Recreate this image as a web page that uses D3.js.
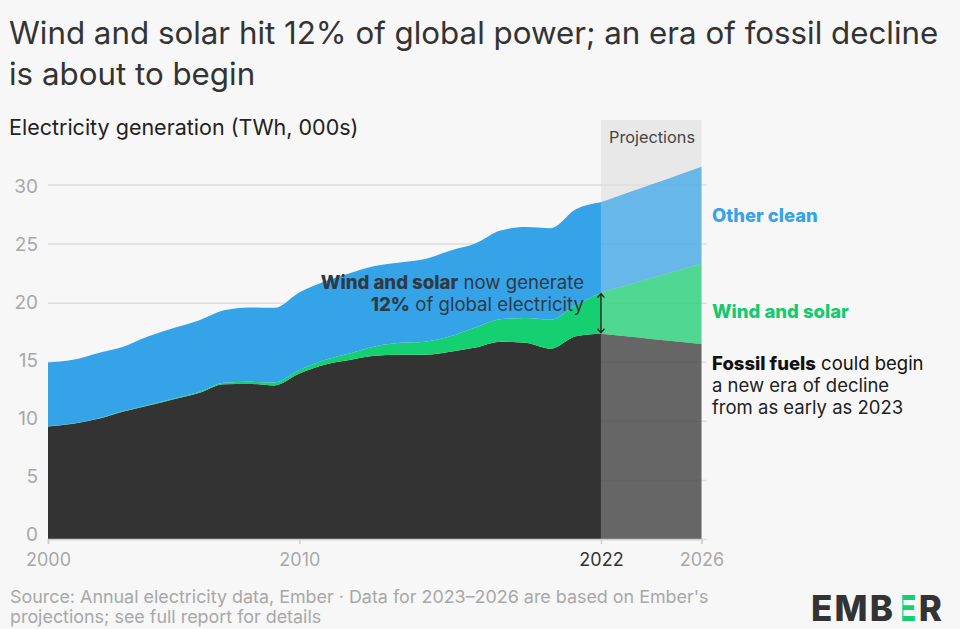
<!DOCTYPE html>
<html lang="en">
<head>
  <meta charset="UTF-8">
  <title>Wind and solar hit 12% of global power</title>
  <script src="https://d3js.org/d3.v7.min.js"></script>
  <style>
    html, body { margin: 0; padding: 0; background: #f7f7f7; }
    svg { display: block; font-family: Inter, sans-serif; }
    .tick text { font-family: Inter, sans-serif; }
  </style>
</head>
<body>
  <div id="chart"></div>

  <script>
    const years = d3.range(2000, 2027);
    const fossil = [9.52, 9.75, 10.17, 10.8, 11.3, 11.83, 12.35, 13.1, 13.12, 13.0, 14.0, 14.75, 15.15, 15.5, 15.6, 15.6, 15.85, 16.2, 16.7, 16.6, 16.1, 17.15, 17.37, 17.15, 16.93, 16.72, 16.5];
    const windSolar = [0.03, 0.03, 0.03, 0.03, 0.04, 0.05, 0.08, 0.12, 0.18, 0.25, 0.3, 0.4, 0.55, 0.8, 1.0, 1.1, 1.3, 1.7, 1.9, 2.1, 2.46, 2.65, 3.48, 4.31, 5.15, 5.97, 6.8];
    const otherClean = [5.39, 5.39, 5.55, 5.44, 5.81, 5.97, 6.07, 6.13, 6.3, 6.31, 6.57, 6.65, 6.8, 6.8, 6.8, 7.0, 7.25, 7.1, 7.5, 7.7, 7.74, 8.1, 7.65, 7.79, 7.92, 8.06, 8.2];
    const seriesKeys = ["fossil", "windSolar", "otherClean"];
    const seriesColors = ["#333333", "#15d070", "#35a3e8"];
    const yTicks = [0, 5, 10, 15, 20, 25, 30];
    const xTicks = [2000, 2010, 2022, 2026];
    const lastActual = 2022;

    const width = 960, height = 629;
    const svg = d3.select("#chart").append("svg")
                  .attr("width", width)
                  .attr("height", height);

    const x = d3.scaleLinear().domain([2000, 2026]).range([48, 701.5]);
    const y = d3.scaleLinear().domain([0, 30]).range([539, 184.5]);
    // the tick labels are spaced a little tighter than the gridlines in the original
    const yLabel = d3.scaleLinear().domain([0, 30]).range([534, 186.5]);

    const rows = years.map((yr, i) => ({
      year: yr, fossil: fossil[i], windSolar: windSolar[i], otherClean: otherClean[i]
    }));
    const stacked = d3.stack().keys(seriesKeys)(rows);

    // grey band sits behind everything, the gridlines go on top of it
    svg.append("rect")
       .attr("x", x(lastActual)).attr("y", 120)
       .attr("width", x(2026) - x(lastActual)).attr("height", y(0) - 120)
       .attr("fill", "#e8e8e8");

    const yAxis = svg.append("g")
       .attr("transform", `translate(${x(2000)},0)`)
       .call(d3.axisLeft(y).tickValues(yTicks).tickSize(-(x(2026) - x(2000) + 5)).tickPadding(10));
    yAxis.select(".domain").remove();
    yAxis.selectAll("line").attr("stroke", "#dedede").attr("stroke-width", 1.5);
    yAxis.selectAll("text")
         .attr("y", d => yLabel(d) - y(d))
         .attr("fill", "#a8a8a8").style("font-size", "19px");

    const area = d3.area()
                   .curve(d3.curveMonotoneX)
                   .x(d => x(d.data.year))
                   .y0(d => y(d[0]))
                   .y1(d => y(d[1]));

    stacked.forEach((s, i) => {
      const actual = s.filter(d => d.data.year <= lastActual);
      const projected = s.filter(d => d.data.year >= lastActual);
      svg.append("path").attr("d", area(actual)).attr("fill", seriesColors[i]);
      svg.append("path").attr("d", area(projected)).attr("fill", seriesColors[i]).attr("opacity", 0.72);
    });

    const xAxis = svg.append("g")
       .attr("transform", `translate(0,${y(0)})`)
       .call(d3.axisBottom(x).tickValues(xTicks).tickFormat(d3.format("d")).tickSize(5).tickPadding(9));
    xAxis.select(".domain").attr("stroke", "#cfcfcf").attr("stroke-width", 1.5);
    xAxis.selectAll("line").attr("stroke", "#cfcfcf").attr("stroke-width", 1.5);
    xAxis.selectAll("text")
         .attr("fill", d => d === lastActual ? "#333333" : "#a8a8a8")
         .style("font-size", "18px");

    // double arrow across the wind and solar band in 2022
    const iLast = years.indexOf(lastActual);
    const arrowX = x(lastActual);
    const arrowTop = y(fossil[iLast] + windSolar[iLast]) + 1;
    const arrowBottom = y(fossil[iLast]) - 1;
    svg.append("path")
       .attr("d", `M${arrowX},${arrowTop}V${arrowBottom}` +
                  `M${arrowX - 3.5},${arrowTop + 4}L${arrowX},${arrowTop}L${arrowX + 3.5},${arrowTop + 4}` +
                  `M${arrowX - 3.5},${arrowBottom - 4}L${arrowX},${arrowBottom}L${arrowX + 3.5},${arrowBottom - 4}`)
       .attr("fill", "none").attr("stroke", "#222").attr("stroke-width", 1.4);

    function label(px, py, size, color, parts, anchor) {
      const t = svg.append("text")
                   .attr("x", px).attr("y", py)
                   .attr("font-size", size)
                   .attr("fill", color)
                   .attr("text-anchor", anchor || "start");
      parts.forEach(p => {
        t.append("tspan").text(p[0]).attr("font-weight", p[1] || 400);
      });
      return t;
    }

    label(9, 43.5, 31.3, "#333333", [["Wind and solar hit 12% of global power; an era of fossil decline"]]);
    label(9, 84.5, 31.3, "#333333", [["is about to begin"]]);
    label(9, 135, 21.5, "#222222", [["Electricity generation (TWh, 000s)"]]);
    label(609, 143, 16.3, "#444444", [["Projections"]]);

    label(584, 288.5, 18.6, "#2e3a44", [["Wind and solar", 800], [" now generate"]], "end");
    label(584, 310.5, 18.6, "#2e3a44", [["12%", 800], [" of global electricity"]], "end");

    label(712, 222, 18.4, "#35a3e8", [["Other clean", 800]]);
    label(712, 318, 18.5, "#15c96e", [["Wind and solar", 800]]);
    label(712, 369.5, 18.5, "#111111", [["Fossil fuels", 800], [" could begin"]]);
    label(712, 391.5, 18.5, "#222222", [["a new era of decline"]]);
    label(712, 413.5, 18.5, "#222222", [["from as early as 2023"]]);

    label(10, 603, 17.9, "#a8a8a8", [["Source: Annual electricity data, Ember · Data for 2023–2026 are based on Ember's"]]);
    label(10, 623, 17.9, "#a8a8a8", [["projections; see full report for details"]]);

    // logo: middle E is green and has no stem
    const logo = svg.append("text")
                    .attr("x", 811).attr("y", 620.5)
                    .attr("font-size", 35).attr("font-weight", 800)
                    .attr("letter-spacing", 2.2)
                    .attr("fill", "#333333");
    logo.append("tspan").text("EMB");
    logo.append("tspan").text("E").attr("fill", "#15d070");
    logo.append("tspan").text("R");
    const e = logo.node().getExtentOfChar(3);
    svg.append("rect")
       .attr("x", e.x).attr("y", e.y)
       .attr("width", e.width * 0.3).attr("height", e.height)
       .attr("fill", "#f7f7f7");
  </script>
</body>
</html>
